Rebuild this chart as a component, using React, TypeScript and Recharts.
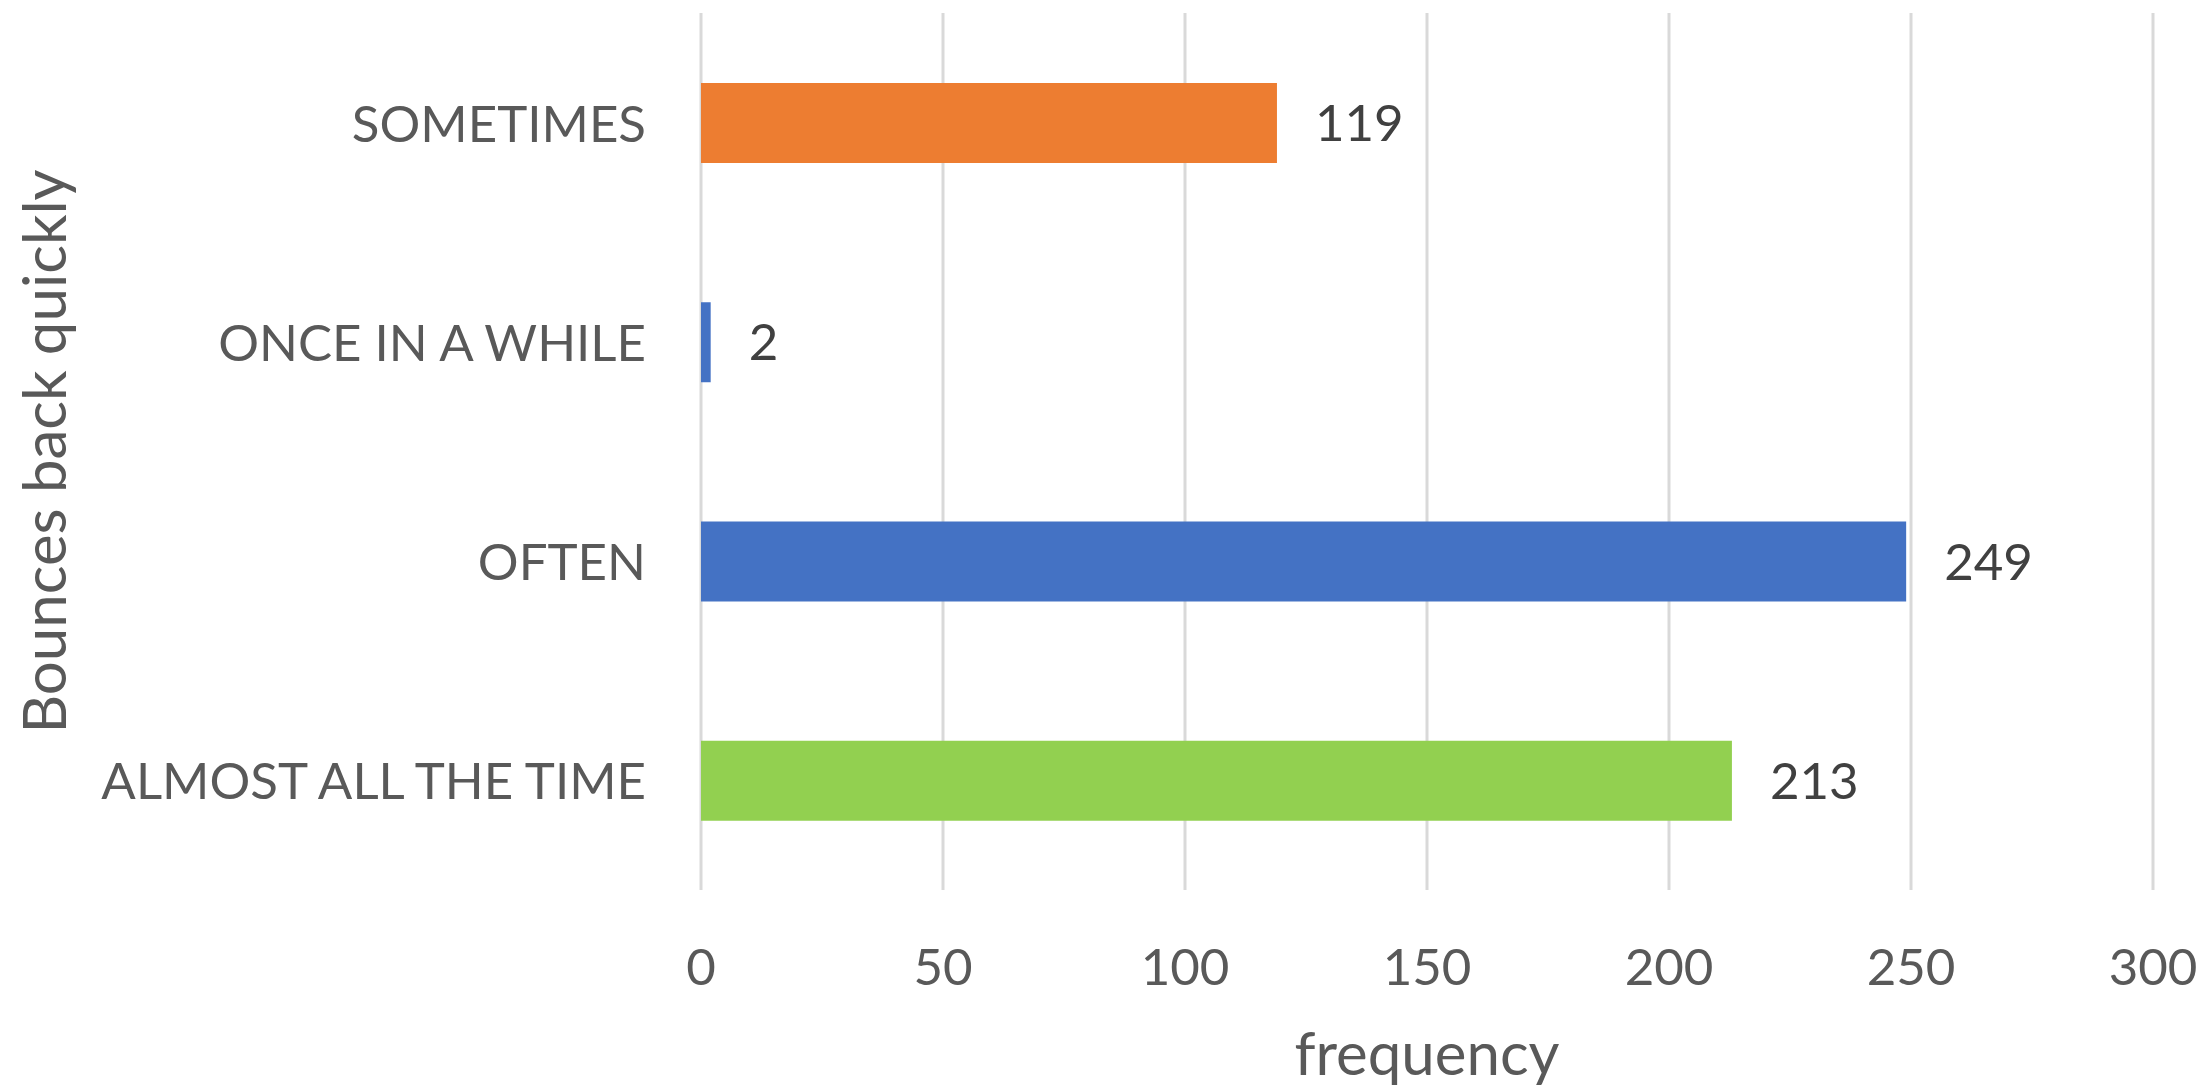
import { BarChart, Bar, XAxis, YAxis, CartesianGrid, Cell, LabelList } from 'recharts';

const categories = ['SOMETIMES', 'ONCE IN A WHILE', 'OFTEN', 'ALMOST ALL THE TIME'];
const frequencies = [119, 2, 249, 213];
const barColors = ['#ED7D31', '#4472C4', '#4472C4', '#92D050'];
const xTicks = [0, 50, 100, 150, 200, 250, 300];

const FONT = 'Lato, "Open Sans", sans-serif';
const FONT_SIZE = 51;
const TITLE_SIZE = 60;

const data = categories.map((name, i) => ({ name, value: frequencies[i] }));

const CategoryTick = ({ x, y, payload }: any) => (
    <text x={x - 55} y={y} dy={19} textAnchor="end" fill="#595959"
        fontFamily={FONT} fontSize={FONT_SIZE}>
        {payload.value}
    </text>
);

const ValueTick = ({ x, y, payload }: any) => (
    <text x={x} y={y} dy={95} textAnchor="middle" fill="#595959"
        fontFamily={FONT} fontSize={FONT_SIZE}>
        {payload.value}
    </text>
);

const YTitle = ({ viewBox }: any) => {
    const cx = viewBox.x + 66;
    const cy = viewBox.y + viewBox.height / 2;
    return (
        <text x={cx} y={cy} transform={`rotate(-90, ${cx}, ${cy})`} textAnchor="middle"
            fill="#595959" fontFamily={FONT} fontSize={TITLE_SIZE}>
            Bounces back quickly
        </text>
    );
};

const XTitle = ({ viewBox }: any) => {
    const cx = viewBox.x + viewBox.width / 2;
    return (
        <text x={cx} y={viewBox.y + 185} textAnchor="middle"
            fill="#595959" fontFamily={FONT} fontSize={TITLE_SIZE}>
            frequency
        </text>
    );
};

export default function App() {
    return (
        <div style={{ position: 'absolute', left: 0, top: 0, background: '#fff' }}>
            <BarChart width={2198} height={1091} data={data} layout="vertical"
                margin={{ top: 13, right: 45, bottom: 0, left: 0 }}>
                <CartesianGrid horizontal={false} stroke="#D9D9D9" strokeWidth={3} />
                <XAxis type="number" domain={[0, 300]} ticks={xTicks} height={201}
                    axisLine={false} tickLine={false} tickSize={0} tickMargin={0}
                    tick={<ValueTick />} label={<XTitle />} />
                <YAxis type="category" dataKey="name" width={701}
                    axisLine={false} tickLine={false} tickSize={0} tickMargin={0}
                    tick={<CategoryTick />} label={<YTitle />} />
                <Bar dataKey="value" barSize={80} isAnimationActive={false}>
                    {data.map((d, i) => (
                        <Cell key={d.name} fill={barColors[i]} />
                    ))}
                    <LabelList dataKey="value" position="right" offset={38}
                        fill="#404040" fontFamily={FONT} fontSize={FONT_SIZE} />
                </Bar>
            </BarChart>
        </div>
    );
}
